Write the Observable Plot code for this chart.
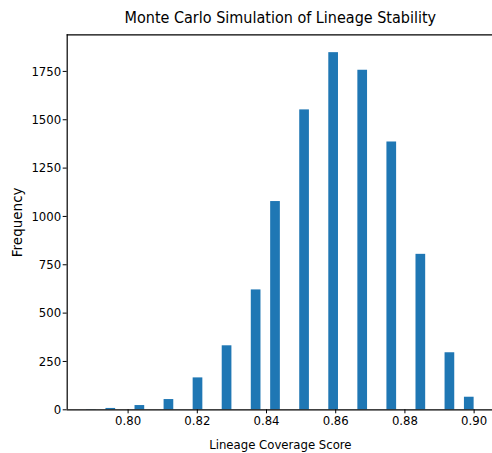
<!DOCTYPE html>
<html>
<head>
<meta charset="utf-8">
<script src="https://cdn.jsdelivr.net/npm/d3@7"></script>
<script src="https://cdn.jsdelivr.net/npm/@observablehq/plot@0.6"></script>
<style>
  body { margin: 0; background: #fff; }
  svg { display: block; }
</style>
</head>
<body>
<div id="chart"></div>
<script>
const titleText = "Monte Carlo Simulation of Lineage Stability";
const xLabel = "Lineage Coverage Score";
const yLabel = "Frequency";

// histogram bins (40 bins of width 0.0028 from 0.788 to 0.900); only non-empty bins listed
const binStarts = [0.7880, 0.7936, 0.8020, 0.8104, 0.8188, 0.8272, 0.8356, 0.8412, 0.8496, 0.8580, 0.8664, 0.8748, 0.8832, 0.8916, 0.8972];
const counts    = [1,      7,      22,     53,     165,    331,    620,    1077,   1551,   1847,   1756,   1385,   804,    295,    65];
const binWidth = 0.0028;

const xTicks = [0.80, 0.82, 0.84, 0.86, 0.88, 0.90];
const yTicks = [0, 250, 500, 750, 1000, 1250, 1500, 1750];

const bars = binStarts.map((s, i) => ({x1: s, x2: s + binWidth, y: counts[i]}));

const W = 492, H = 453;
const mL = 66.7, mT = 34.3, mB = 43.7;
const dataMin = 0.788, dataMax = 0.900;
const pad = (dataMax - dataMin) * 0.05;
const yMax = d3.max(counts) * 1.05;
const font = "'DejaVu Sans Condensed', 'DejaVu Sans', sans-serif";

const chart = Plot.plot({
  width: W,
  height: H,
  marginLeft: mL,
  marginTop: mT,
  marginBottom: mB,
  marginRight: 0,
  style: {fontFamily: font, fontSize: "13px", color: "#000", background: "#fff", overflow: "hidden"},
  x: {domain: [dataMin - pad, dataMax + pad], range: [mL, 493], label: null, axis: null},
  y: {domain: [0, yMax], label: null, axis: null},
  marks: [
    Plot.rectY(bars, {x1: "x1", x2: "x2", y: "y", fill: "#1f77b4"}),
    Plot.axisX({ticks: xTicks, tickFormat: d3.format(".2f"), tickSize: 4, tickPadding: 2, fontSize: 13, stroke: "#000", strokeWidth: 1}),
    Plot.axisY({ticks: yTicks, tickFormat: d => String(d), tickSize: 4, tickPadding: 2, fontSize: 13, stroke: "#000", strokeWidth: 1}),
    Plot.ruleX([dataMin - pad], {stroke: "#000", strokeWidth: 1.2}),
    Plot.ruleY([0, yMax], {stroke: "#000", strokeWidth: 1.2}),
    Plot.text([titleText], {frameAnchor: "top", dy: -17, fontSize: 16, fill: "#000", lineAnchor: "middle", text: d => d, dx: (mL + 493) / 2 - (mL + W) / 2}),
    Plot.text([xLabel], {frameAnchor: "bottom", dy: 35, fontSize: 13, fill: "#000", lineAnchor: "middle", text: d => d, dx: (mL + 493) / 2 - (mL + W) / 2}),
    Plot.text([yLabel], {frameAnchor: "left", dx: -50, fontSize: 13.5, fontFamily: "'DejaVu Sans', sans-serif", fill: "#000", rotate: -90, textAnchor: "middle", lineAnchor: "middle", text: d => d})
  ]
});
document.getElementById("chart").appendChild(chart);
</script>
</body>
</html>
